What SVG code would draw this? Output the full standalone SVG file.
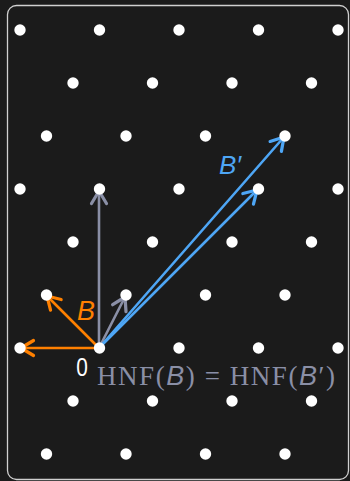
<svg xmlns="http://www.w3.org/2000/svg" width="350" height="481" viewBox="0 0 350 481">
<defs>
<style>
.dot{fill:#ffffff}
.vec{stroke-width:2.6;fill:none;stroke-linecap:round}
.or{stroke:#ff8000}
.gr{stroke:#8a8fa6}
.bl{stroke:#4ea6f5}
.lbl{font-family:"Liberation Sans",Arial,sans-serif;font-style:italic}
.math{font-family:"Liberation Serif","Times New Roman",serif;font-size:27px;fill:#8a8fa6}
.mi{font-family:"Liberation Sans",Arial,sans-serif;font-style:italic}
</style>
<marker id="ah-or" markerUnits="userSpaceOnUse" markerWidth="20" markerHeight="20" refX="0" refY="0" viewBox="-12 -8 14 16" orient="auto" overflow="visible"><path d="M-10,-6 L0,0 L-10,6" fill="none" stroke="#ff8000" stroke-width="2.6" stroke-linecap="round" stroke-linejoin="round"/></marker>
<marker id="ah-gr" markerUnits="userSpaceOnUse" markerWidth="20" markerHeight="20" refX="0" refY="0" viewBox="-12 -8 14 16" orient="auto" overflow="visible"><path d="M-10,-6 L0,0 L-10,6" fill="none" stroke="#8a8fa6" stroke-width="2.6" stroke-linecap="round" stroke-linejoin="round"/></marker>
<marker id="ah-bl" markerUnits="userSpaceOnUse" markerWidth="20" markerHeight="20" refX="0" refY="0" viewBox="-12 -8 14 16" orient="auto" overflow="visible"><path d="M-10,-6 L0,0 L-10,6" fill="none" stroke="#4ea6f5" stroke-width="2.6" stroke-linecap="round" stroke-linejoin="round"/></marker>
</defs>
<rect x="0" y="0" width="350" height="481" fill="#1b1b1b"/>
<rect x="7.5" y="5.5" width="341" height="474" rx="9" fill="#1b1b1b" stroke="#d0d0d0" stroke-width="1.3"/>

<g id="connectors">
<line class="vec or" x1="99" y1="348" x2="21" y2="348" marker-end="url(#ah-or)"/>
<line class="vec or" x1="99" y1="348" x2="47" y2="296" marker-end="url(#ah-or)"/>
<line class="vec gr" x1="99" y1="348" x2="99" y2="191" marker-end="url(#ah-gr)"/>
<line class="vec gr" x1="99" y1="348" x2="125" y2="297" marker-end="url(#ah-gr)"/>
<line class="vec bl" x1="99" y1="348" x2="284" y2="137" marker-end="url(#ah-bl)"/>
<line class="vec bl" x1="99" y1="348" x2="257" y2="190" marker-end="url(#ah-bl)"/>
</g>

<g id="lattice">
<circle class="dot" cx="20" cy="30" r="5.7"/><circle class="dot" cx="99.5" cy="30" r="5.7"/><circle class="dot" cx="179" cy="30" r="5.7"/><circle class="dot" cx="258.5" cy="30" r="5.7"/><circle class="dot" cx="338" cy="30" r="5.7"/>
<circle class="dot" cx="73" cy="83" r="5.7"/><circle class="dot" cx="152.5" cy="83" r="5.7"/><circle class="dot" cx="232" cy="83" r="5.7"/><circle class="dot" cx="311.5" cy="83" r="5.7"/>
<circle class="dot" cx="46.5" cy="136" r="5.7"/><circle class="dot" cx="126" cy="136" r="5.7"/><circle class="dot" cx="205.5" cy="136" r="5.7"/><circle class="dot" cx="285" cy="136" r="5.7"/>
<circle class="dot" cx="20" cy="189" r="5.7"/><circle class="dot" cx="99.5" cy="189" r="5.7"/><circle class="dot" cx="179" cy="189" r="5.7"/><circle class="dot" cx="258.5" cy="189" r="5.7"/><circle class="dot" cx="338" cy="189" r="5.7"/>
<circle class="dot" cx="73" cy="242" r="5.7"/><circle class="dot" cx="152.5" cy="242" r="5.7"/><circle class="dot" cx="232" cy="242" r="5.7"/><circle class="dot" cx="311.5" cy="242" r="5.7"/>
<circle class="dot" cx="46.5" cy="295" r="5.7"/><circle class="dot" cx="126" cy="295" r="5.7"/><circle class="dot" cx="205.5" cy="295" r="5.7"/><circle class="dot" cx="285" cy="295" r="5.7"/>
<circle class="dot" cx="20" cy="348" r="5.7"/><circle class="dot" cx="99.5" cy="348" r="5.7"/><circle class="dot" cx="179" cy="348" r="5.7"/><circle class="dot" cx="258.5" cy="348" r="5.7"/><circle class="dot" cx="338" cy="348" r="5.7"/>
<circle class="dot" cx="73" cy="401" r="5.7"/><circle class="dot" cx="152.5" cy="401" r="5.7"/><circle class="dot" cx="232" cy="401" r="5.7"/><circle class="dot" cx="311.5" cy="401" r="5.7"/>
<circle class="dot" cx="46.5" cy="454" r="5.7"/><circle class="dot" cx="126" cy="454" r="5.7"/><circle class="dot" cx="205.5" cy="454" r="5.7"/><circle class="dot" cx="285" cy="454" r="5.7"/>
</g>

<g id="labels">
<text class="lbl" x="77" y="320" font-size="27" fill="#ff8000">B</text>
<text class="lbl" x="219" y="174" font-size="26" fill="#4ea6f5">B′</text>
<text x="82" y="376" font-family="'Liberation Sans',Arial,sans-serif" font-size="26" fill="#ffffff" text-anchor="middle" transform="translate(82 0) scale(0.8 1) translate(-82 0)">0</text>
<text class="math" x="97" y="385" textLength="238" lengthAdjust="spacing">HNF(<tspan class="mi">B</tspan>) = HNF(<tspan class="mi">B</tspan>′)</text>
</g>
</svg>
